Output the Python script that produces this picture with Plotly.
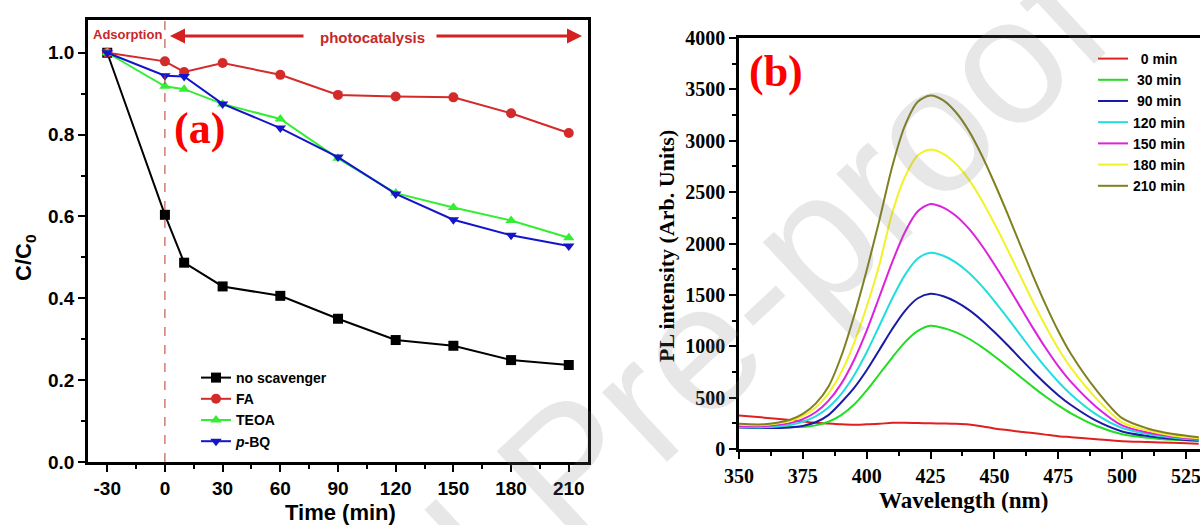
import plotly.graph_objects as go

# ---------------- Panel (a) data ----------------
time_min = [-30, 0, 10, 30, 60, 90, 120, 150, 180, 210]
no_scavenger = [1.0, 0.604, 0.487, 0.429, 0.406, 0.350, 0.298, 0.284, 0.249, 0.237]
fa = [1.0, 0.979, 0.953, 0.975, 0.946, 0.897, 0.893, 0.891, 0.852, 0.804]
teoa = [1.0, 0.918, 0.911, 0.875, 0.838, 0.742, 0.657, 0.622, 0.590, 0.548]
pbq = [1.0, 0.944, 0.942, 0.875, 0.816, 0.745, 0.655, 0.592, 0.554, 0.528]
a_names = ["no scavenger", "FA", "TEOA", "<i>p</i>-BQ"]
a_ticks = [-30, 0, 30, 60, 90, 120, 150, 180, 210]
a_tick_labels = ["-30", "0", "30", "60", "90", "120", "150", "180", "210"]
adsorption_end = 0

# ---------------- Panel (b) data ----------------
wavelength = [350, 360, 370, 375, 380, 385, 390, 395, 400, 405, 410, 415, 420, 425, 430,
              435, 440, 445, 450, 455, 460, 465, 470, 475, 480, 490, 500, 510, 520, 530]
pl_0 = [325, 305, 282, 268, 255, 248, 240, 236, 240, 245, 255, 255, 252, 250, 248,
        245, 238, 222, 200, 185, 168, 155, 140, 125, 115, 95, 75, 68, 60, 52]
pl_30 = [220, 213, 215, 215, 230, 265, 330, 430, 570, 730, 890, 1040, 1150, 1200, 1178,
         1135, 1073, 994, 903, 806, 705, 605, 511, 424, 347, 224, 144, 110, 89, 77]
pl_90 = [210, 205, 210, 225, 260, 330, 453, 592, 766, 966, 1168, 1345, 1467, 1510, 1486,
         1432, 1354, 1254, 1138, 1014, 885, 757, 635, 524, 428, 273, 171, 126, 98, 82]
pl_120 = [215, 211, 234, 265, 318, 404, 534, 715, 942, 1202, 1465, 1695, 1854, 1910, 1881,
          1814, 1715, 1587, 1439, 1280, 1115, 951, 796, 654, 531, 334, 205, 145, 109, 89]
pl_150 = [225, 223, 252, 291, 358, 469, 634, 864, 1152, 1484, 1819, 2112, 2313, 2385, 2350,
          2268, 2144, 1983, 1796, 1596, 1388, 1181, 985, 807, 653, 407, 230, 160, 120, 97]
pl_180 = [235, 234, 271, 319, 403, 540, 744, 1029, 1387, 1799, 2300, 2650, 2860, 2915, 2873,
          2773, 2622, 2424, 2194, 1948, 1692, 1438, 1198, 979, 789, 489, 260, 180, 130, 105]
pl_210 = [245, 241, 285, 342, 442, 606, 900, 1290, 1740, 2230, 2750, 3150, 3380, 3440, 3393,
          3275, 3096, 2861, 2589, 2298, 1994, 1693, 1408, 1149, 924, 570, 300, 200, 145, 115]
b_names = ["\u00a0\u00a00 min", "\u00a030 min", "\u00a090 min", "120 min", "150 min", "180 min", "210 min"]

W, H = 1200, 525
SANS = "Liberation Sans, Arial, sans-serif"
SERIF = "Liberation Serif, Times New Roman, serif"

fig = go.Figure()

a_series = [no_scavenger, fa, teoa, pbq]
a_colors = ["#000000", "#d42a2a", "#33ee33", "#1414c8"]
a_symbols = ["square", "circle", "triangle-up", "triangle-down"]
for ys, nm, c, s in zip(a_series, a_names, a_colors, a_symbols):
    fig.add_trace(go.Scatter(x=time_min, y=ys, name=nm, mode="lines+markers",
                             line=dict(color=c, width=2),
                             marker=dict(symbol=s, size=10, color=c),
                             xaxis="x", yaxis="y", legend="legend"))

b_series = [pl_0, pl_30, pl_90, pl_120, pl_150, pl_180, pl_210]
b_colors = ["#e02020", "#22dd22", "#1a1aa8", "#22dddd", "#dd22dd", "#f2f226", "#808020"]
for ys, nm, c in zip(b_series, b_names, b_colors):
    fig.add_trace(go.Scatter(x=wavelength, y=ys, name=nm, mode="lines",
                             line=dict(color=c, width=2, shape="spline", smoothing=0.8),
                             xaxis="x2", yaxis="y2", legend="legend2"))

def px(x):
    return x / W

def py(y):
    return 1 - y / H

axis_common = dict(showgrid=False, zeroline=False, showline=True, linecolor="black",
                   linewidth=2.5, ticks="outside", ticklen=7, tickwidth=2, tickcolor="black",
                   automargin=False, ticklabeloverflow="allow")

fig.update_layout(
    width=W, height=H, margin=dict(l=0, r=0, t=0, b=0, autoexpand=False),
    paper_bgcolor="white", plot_bgcolor="white",
    xaxis=dict(domain=[px(88), px(588)], range=[-40, 220], tickmode="array", tickvals=a_ticks,
               ticktext=a_tick_labels, mirror=True, anchor="y",
               tickfont=dict(family=SANS, size=19, color="black", weight="bold"),
               minor=dict(dtick=15, tick0=0, ticks="outside", ticklen=4, tickwidth=2, tickcolor="black"),
               **axis_common),
    yaxis=dict(domain=[py(462), py(20)], range=[0, 1.08], dtick=0.2, tick0=0, tickformat=".1f",
               mirror=True, anchor="x",
               tickfont=dict(family=SANS, size=19, color="black", weight="bold"),
               minor=dict(dtick=0.1, tick0=0, ticks="outside", ticklen=4, tickwidth=2, tickcolor="black"),
               **axis_common),
    xaxis2=dict(domain=[px(739), 1.0], range=[350, 530.5], dtick=25, tick0=350,
                mirror=True, anchor="y2",
                tickfont=dict(family=SERIF, size=20, color="black", weight="bold"),
                minor=dict(dtick=12.5, tick0=350, ticks="outside", ticklen=4, tickwidth=2, tickcolor="black"),
                **axis_common),
    yaxis2=dict(domain=[py(449), py(38)], range=[0, 4000], dtick=500, tick0=0,
                mirror=False, anchor="x2",
                tickfont=dict(family=SERIF, size=20, color="black", weight="bold"),
                minor=dict(dtick=250, tick0=0, ticks="outside", ticklen=4, tickwidth=2, tickcolor="black"),
                **axis_common),
    legend=dict(x=px(196), y=py(362), xanchor="left", yanchor="top",
                font=dict(family=SANS, size=14, color="black", weight="bold"),
                bgcolor="rgba(0,0,0,0)", tracegroupgap=0),
    legend2=dict(x=px(1093), y=py(43), xanchor="left", yanchor="top",
                 font=dict(family=SANS, size=14, color="black", weight="bold"),
                 bgcolor="rgba(0,0,0,0)", tracegroupgap=0),
)

# dashed line at end of adsorption
fig.add_shape(type="line", xref="x", yref="y", x0=adsorption_end, x1=adsorption_end,
              y0=0, y1=1.08, line=dict(color="#c0392b", width=1, dash="dash"))

red = "#d42020"
ann = []
ann.append(dict(text="Adsorption", x=px(127), y=py(35), font=dict(family=SANS, size=13, color="#c62828", weight="bold")))
ann.append(dict(text="photocatalysis", x=px(372), y=py(37), font=dict(family=SANS, size=15, color="#c62828", weight="bold")))
ann.append(dict(text="(a)", x=px(199), y=py(128), font=dict(family=SERIF, size=44, color="#ff0000", weight="bold")))
ann.append(dict(text="(b)", x=px(776), y=py(72), font=dict(family=SERIF, size=44, color="#ff0000", weight="bold")))
ann.append(dict(text="Time (min)", x=px(340), y=py(512), font=dict(family=SANS, size=22, color="black", weight="bold")))
ann.append(dict(text="C/C<sub>0</sub>", x=px(25), y=py(258), textangle=-90, font=dict(family=SANS, size=22, color="black", weight="bold")))
ann.append(dict(text="Wavelength (nm)", x=px(963), y=py(500), font=dict(family=SERIF, size=23, color="black", weight="bold")))
ann.append(dict(text="PL intensity (Arb. Units)", x=px(666), y=py(246), textangle=-90, font=dict(family=SERIF, size=22, color="black", weight="bold")))
for a in ann:
    a.update(xref="paper", yref="paper", showarrow=False, xanchor="center", yanchor="middle")
    fig.add_annotation(**a)

# arrows
fig.add_annotation(x=px(170), y=py(36), xref="paper", yref="paper", text="", showarrow=True,
                   ax=135, ay=0, arrowhead=2, arrowsize=1, arrowwidth=3, arrowcolor=red)
fig.add_annotation(x=px(582), y=py(36), xref="paper", yref="paper", text="", showarrow=True,
                   ax=-147, ay=0, arrowhead=2, arrowsize=1, arrowwidth=3, arrowcolor=red)

# watermark
fig.add_annotation(text="Journal Pre-proof", x=px(568), y=py(468), xref="paper", yref="paper",
                   showarrow=False, textangle=-43, xanchor="center", yanchor="middle",
                   font=dict(family=SANS, size=180, color="rgba(120,120,120,0.18)"))

fig.write_html("out.html", config={"displayModeBar": False},
               post_script="document.body.style.margin='0';document.body.style.padding='0';")
